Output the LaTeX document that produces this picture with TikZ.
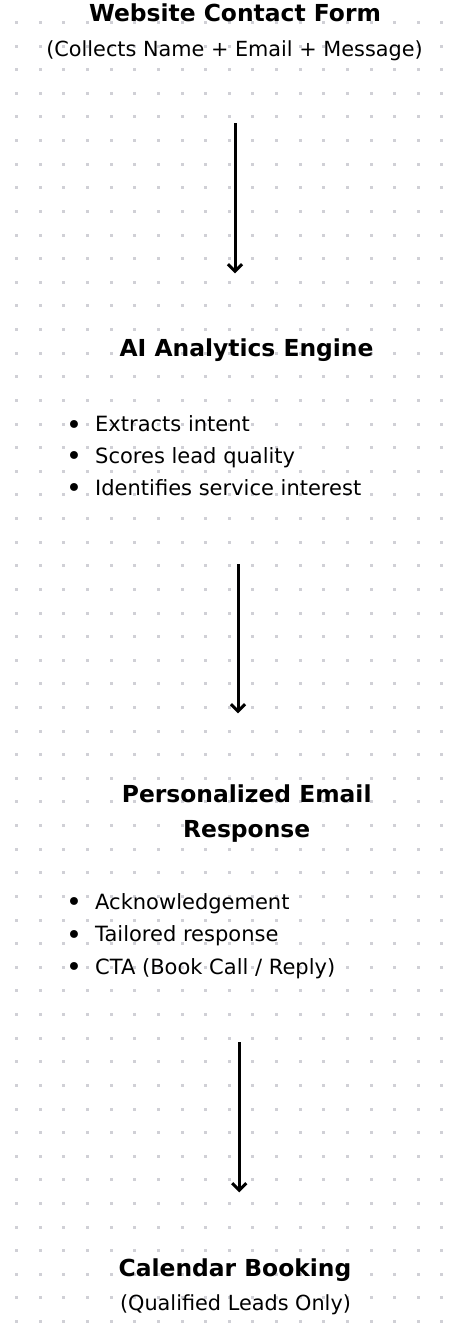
\documentclass[tikz,border=0pt]{standalone}
\usepackage{fontspec}
\setmainfont{DejaVu Sans}
\usetikzlibrary{arrows.meta}

\definecolor{dotgray}{RGB}{208,208,214}

\tikzset{
  heading/.style={anchor=base, font=\fontsize{23.4}{28}\selectfont\bfseries, inner sep=0pt},
  subline/.style={anchor=base, font=\fontsize{20.8}{25}\selectfont, inner sep=0pt},
  bulletline/.style={anchor=base west, font=\fontsize{21}{25}\selectfont, inner sep=0pt},
  flowarrow/.style={line width=3pt, -{Straight Barb[length=7pt,width=14pt]}},
  griddot/.style={fill=dotgray, draw=none}
}

\newcommand{\bul}[1]{\makebox[27pt][l]{\hspace{-2pt}\raisebox{-2.6pt}{\fontsize{27}{27}\selectfont\textbullet}}#1}

\begin{document}
\begin{tikzpicture}[x=1pt,y=-1pt]
        \useasboundingbox (0,0) rectangle (460,1326);
        \fill[white] (0,0) rectangle (460,1326);
        % dotted grid
        \foreach \i in {0,...,18}
          \foreach \j in {0,...,55}
            \fill[griddot] ({16.7+23.62*\i-1.5},{22.5+23.62*\j-1.5}) rectangle ++(3,3);

        % website form
        \node[heading] (form) at (235,21.7) {Website Contact Form};
        \node[subline] (formsub) at (234.5,56.7) {(Collects Name + Email + Message)};

        % analytics
        \node[heading] (engine) at (246.5,356.7) {AI Analytics Engine};
        \node[bulletline] (intent) at (68,431.7) {\bul{Extracts intent}};
        \node[bulletline] (score) at (68,463.3) {\bul{Scores lead quality}};
        \node[bulletline] (service) at (68,495) {\bul{Identifies service interest}};

        % email
        \node[heading] (mail) at (246.7,802.3) {Personalized Email};
        \node[heading] (mailtwo) at (246.7,837.3) {Response};
        \node[bulletline] (ack) at (68,909.3) {\bul{Acknowledgement}};
        \node[bulletline] (tailor) at (68,941.7) {\bul{Tailored response}};
        \node[bulletline] (cta) at (68,974) {\bul{CTA (Book Call / Reply)}};

        % booking
        \node[heading] (book) at (235,1276.7) {Calendar Booking};
        \node[subline] (booksub) at (235.5,1310.7) {(Qualified Leads Only)};

        % arrows
        \coordinate (a1) at (235,123.3);
        \coordinate (b1) at (235,273.3);
        \coordinate (a2) at (238,564);
        \coordinate (b2) at (238,713.3);
        \coordinate (a3) at (239.3,1042.3);
        \coordinate (b3) at (239.3,1192.3);
        \draw[flowarrow] (a1) -- (b1);
        \draw[flowarrow] (a2) -- (b2);
        \draw[flowarrow] (a3) -- (b3);
\end{tikzpicture}
\end{document}
